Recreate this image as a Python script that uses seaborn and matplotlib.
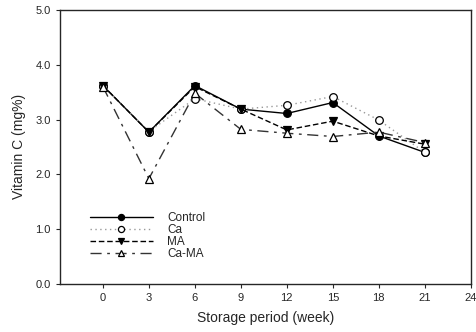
import matplotlib
matplotlib.use("Agg")
import matplotlib.pyplot as plt
import seaborn as sns
import pandas as pd

weeks = [0, 3, 6, 9, 12, 15, 18, 21]
control = [3.62, 2.77, 3.62, 3.19, 3.11, 3.31, 2.70, 2.40]
ca = [3.62, 2.78, 3.38, 3.19, 3.26, 3.42, 2.99, 2.40]
ma = [3.62, 2.77, 3.60, 3.19, 2.81, 2.97, 2.70, 2.55]
ca_ma = [3.60, 1.92, 3.48, 2.82, 2.75, 2.69, 2.77, 2.58]
x_ticks = [0, 3, 6, 9, 12, 15, 18, 21, 24]
y_ticks = [0.0, 1.0, 2.0, 3.0, 4.0, 5.0]

sns.set_style("ticks")
plt.rcParams['font.family'] = ['Liberation Sans', 'DejaVu Sans']

fig = plt.figure(figsize=(4.76, 3.32), dpi=100)
ax = fig.add_axes([0.126, 0.145, 0.863, 0.825])

series = [
    ("Control", control, dict(color="black", linestyle="-", marker="o", mfc="black", mec="black", ms=5.5, lw=1.0)),
    ("Ca", ca, dict(color="#999999", linestyle=(0, (1, 2.5)), marker="o", mfc="white", mec="black", ms=5.5, lw=1.0)),
    ("MA", ma, dict(color="black", linestyle=(0, (4, 2)), marker="v", mfc="black", mec="black", ms=5.5, lw=1.0)),
    ("Ca-MA", ca_ma, dict(color="#333333", linestyle=(0, (8, 4, 2, 4)), marker="^", mfc="white", mec="black", ms=5.5, lw=1.0)),
]
for name, vals, kw in series:
    df = pd.DataFrame({"week": weeks, "vc": vals})
    sns.lineplot(data=df, x="week", y="vc", ax=ax, label=name, markeredgewidth=0.9, **kw)

ax.set_xlim(-2.8, 24)
ax.set_ylim(0, 5)
ax.set_xticks(x_ticks)
ax.set_yticks(y_ticks)
ax.set_yticklabels([f"{v:.1f}" for v in y_ticks])
ax.tick_params(labelsize=8, direction="out", length=3, width=0.8)
for s in ax.spines.values():
    s.set_linewidth(1.0)
ax.set_xlabel("Storage period (week)", fontsize=10, labelpad=6)
ax.set_ylabel("Vitamin C (mg%)", fontsize=10, labelpad=7)

leg = ax.legend(loc="upper left", bbox_to_anchor=(0.062, 0.28), frameon=False, fontsize=8.5,
                handlelength=5.3, handletextpad=1.2, labelspacing=0.0, borderaxespad=0,
                markerscale=0.8)

fig.savefig("out.png", dpi=100)
